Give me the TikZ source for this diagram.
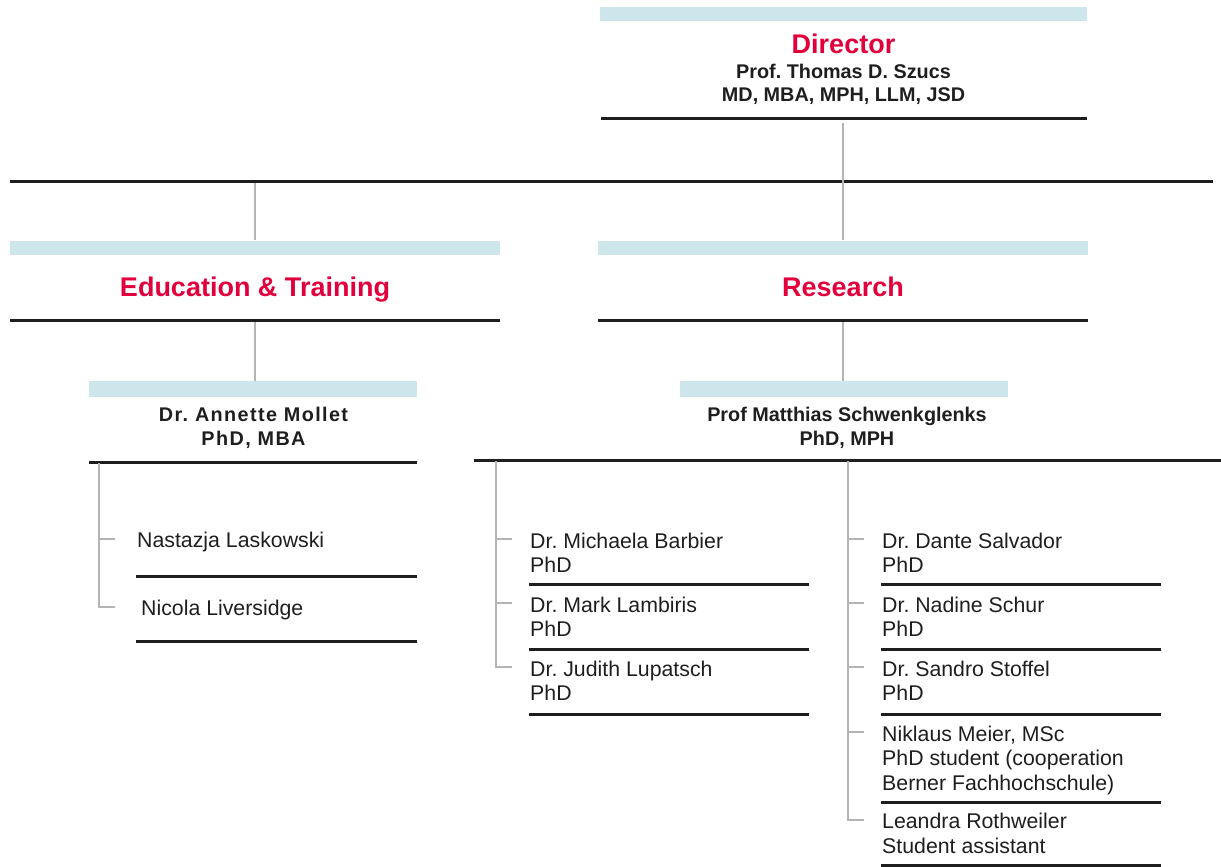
\documentclass[tikz,border=0pt]{standalone}
\usepackage{fontspec}
\setmainfont{Liberation Sans}
\newfontfamily\tracked{Liberation Sans}[LetterSpace=7]
\frenchspacing

\definecolor{unired}{HTML}{E2003C}
\definecolor{barblue}{HTML}{CDE6EB}
\definecolor{linkgray}{HTML}{B4B4B4}
\definecolor{inkblack}{HTML}{1E1E1E}

\tikzset{
  bar/.style={fill=barblue, inner sep=0, minimum height=14pt},
  rule/.style={draw=inkblack, line width=3pt},
  link/.style={draw=linkgray, line width=1.8pt},
  unit/.style={font=\fontsize{27}{30}\selectfont\bfseries, text=unired, inner sep=0, anchor=base},
  head/.style={font=\fontsize{19.8}{24}\selectfont\bfseries, text=inkblack, inner sep=0, anchor=base, align=center},
  staff/.style={font=\fontsize{21.3}{24.5}\selectfont, text=inkblack, inner sep=0, anchor=base west, align=left},
}
% short grey stub left of a staff entry
\newcommand\stafftick[2][18]{\draw[link] ([xshift=-#1pt-16pt,yshift=-7pt]#2.north west) -- ([xshift=-#1pt,yshift=-7pt]#2.north west);}

\begin{document}
\begin{tikzpicture}[x=1pt,y=-1pt]
    \useasboundingbox (0,0) rectangle (1221,867);

    % director
    \node[bar, minimum width=487pt] (dirbar) at (843.5,14.5) {};
    \node[unit] (dir) at (843.5,53.5) {Director};
    \node[head] (szucs) at (843.5,102) {Prof. Thomas D. Szucs\\MD, MBA, MPH, LLM, JSD};
    \draw[rule] (601,118) -- (1087,118);
    \coordinate (dirfoot) at (843,123);

    \draw[rule] (10,181.5) -- (1213,181.5);
    \coordinate (edutop) at (255,183);

    % education & training
    \node[bar, minimum width=490pt] (edubar) at (255,247.5) {};
    \node[unit] (edu) at (255,296.5) {Education \& Training};
    \draw[rule] (10,320) -- (500,320);
    \coordinate (edufoot) at (255,322);

    % research
    \node[bar, minimum width=490pt] (resbar) at (843,247.5) {};
    \node[unit] (res) at (843,296.5) {Research};
    \draw[rule] (598,320) -- (1088,320);
    \coordinate (resfoot) at (843,322);

    \draw[link] (dirfoot) -- (resbar.north);
    \draw[link] (edutop) -- (edubar.north);

    % heads
    \node[bar, minimum width=328pt, minimum height=16pt] (molbar) at (253,389) {};
    \node[head] (mollet) at (253.5,445.5) {{\tracked Dr. Annette Mollet}\\{\tracked PhD, MBA}};
    \draw[rule] (89,462) -- (417,462);

    \node[bar, minimum width=328pt, minimum height=16pt] (schbar) at (844,389) {};
    \node[head] (schwenk) at (847,445.5) {Prof Matthias Schwenkglenks\\PhD, MPH};
    \draw[rule] (474,460) -- (1221,460);

    \draw[link] (edufoot) -- (edufoot |- molbar.north);
    \draw[link] (resfoot) -- (resfoot |- schbar.north);

    % education staff
    \node[staff] (laskowski) at (137,547.5) {Nastazja Laskowski};
    \draw[rule] (136,576) -- (417,576);
    \node[staff] (liversidge) at (141,615.5) {Nicola Liversidge};
    \draw[rule] (136,641) -- (417,641);
    \coordinate (edusp) at (99,463);
    \stafftick[22]{laskowski}
    \draw[link] (edusp) |- ([xshift=-26pt,yshift=-7pt]liversidge.north west);

    % research staff, first column
    \node[staff] (barbier) at (530,572.5) {Dr. Michaela Barbier\\PhD};
    \draw[rule] (529,584) -- (809,584);
    \node[staff] (lambiris) at (530,636.5) {Dr. Mark Lambiris\\PhD};
    \draw[rule] (529,649) -- (809,649);
    \node[staff] (lupatsch) at (530,700.5) {Dr. Judith Lupatsch\\PhD};
    \draw[rule] (529,714) -- (809,714);
    \coordinate (ressp) at (496,461);
    \stafftick{barbier}
    \stafftick{lambiris}
    \draw[link] (ressp) |- ([xshift=-18pt,yshift=-7pt]lupatsch.north west);

    % research staff, second column
    \node[staff] (salvador) at (882,572.5) {Dr. Dante Salvador\\PhD};
    \draw[rule] (881,584) -- (1161,584);
    \node[staff] (schur) at (882,636.5) {Dr. Nadine Schur\\PhD};
    \draw[rule] (881,649) -- (1161,649);
    \node[staff] (stoffel) at (882,700.5) {Dr. Sandro Stoffel\\PhD};
    \draw[rule] (881,714) -- (1161,714);
    \node[staff] (meier) at (882,790) {Niklaus Meier, MSc\\PhD student (cooperation\\Berner Fachhochschule)};
    \draw[rule] (881,802) -- (1161,802);
    \node[staff] (rothweiler) at (882,853) {Leandra Rothweiler\\Student assistant};
    \draw[rule] (881,865) -- (1161,865);
    \coordinate (ressp2) at (848,461);
    \stafftick{salvador}
    \stafftick{schur}
    \stafftick{stoffel}
    \stafftick{meier}
    \draw[link] (ressp2) |- ([xshift=-18pt,yshift=-7pt]rothweiler.north west);
\end{tikzpicture}
\end{document}
